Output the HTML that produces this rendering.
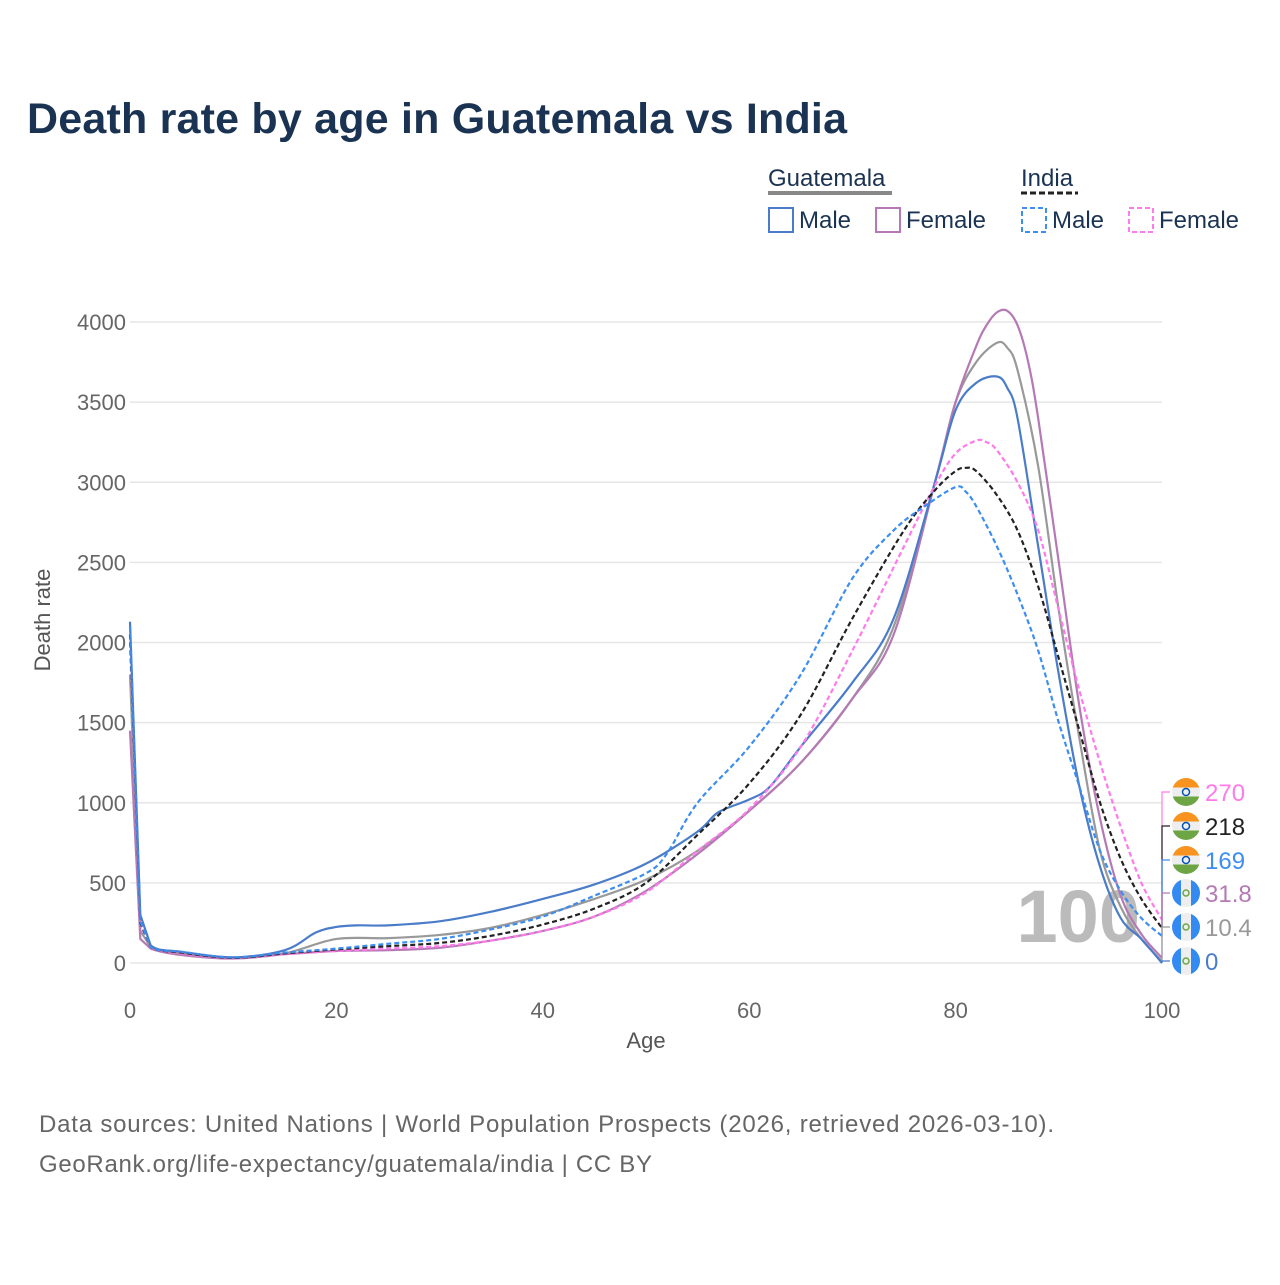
<!DOCTYPE html>
<html><head><meta charset="utf-8"><style>
body{margin:0;background:#fff;font-family:"Liberation Sans",sans-serif}
svg text{font-family:"Liberation Sans",sans-serif}
</style></head><body>
<svg id="chart" width="1280" height="1280" xmlns="http://www.w3.org/2000/svg">
<text x="27" y="133" font-size="43" font-weight="bold" fill="#1b3353" textLength="820">Death rate by age in Guatemala vs India</text>
<g font-size="24" fill="#1b3353">
<text x="768" y="186">Guatemala</text>
<line x1="768" y1="193" x2="892" y2="193" stroke="#888" stroke-width="4"/>
<text x="1021" y="186">India</text>
<line x1="1021" y1="193" x2="1078" y2="193" stroke="#222" stroke-width="3" stroke-dasharray="6,3"/>
<g><rect x="769" y="208" width="24" height="24" fill="none" stroke="#4a7cc9" stroke-width="2"/><text x="799" y="228">Male</text></g>
<g><rect x="876" y="208" width="24" height="24" fill="none" stroke="#b57ab5" stroke-width="2"/><text x="906" y="228">Female</text></g>
<g><rect x="1022" y="208" width="24" height="24" fill="none" stroke="#3d8ef0" stroke-width="2" stroke-dasharray="5,3"/><text x="1052" y="228">Male</text></g>
<g><rect x="1129" y="208" width="24" height="24" fill="none" stroke="#ff7aea" stroke-width="2" stroke-dasharray="5,3"/><text x="1159" y="228">Female</text></g>
</g>
<g id="grid"></g>
<text x="1140" y="942" font-size="74" font-weight="bold" fill="#bbb" text-anchor="end">100</text>
<g id="series"></g>
<g id="labels"></g>
<text x="50" y="620" font-size="22" fill="#555" text-anchor="middle" transform="rotate(-90 50 620)">Death rate</text>
<text x="646" y="1048" font-size="22" fill="#555" text-anchor="middle">Age</text>
<text x="39" y="1132" font-size="24" fill="#666" textLength="1015">Data sources: United Nations | World Population Prospects (2026, retrieved 2026-03-10).</text>
<text x="39" y="1172" font-size="24" fill="#666" textLength="613">GeoRank.org/life-expectancy/guatemala/india | CC BY</text>
</svg>
<script>
const xTicks=[0,20,40,60,80,100];
const yTicks=[0,500,1000,1500,2000,2500,3000,3500,4000];
const gtmMaleAges=[0,1,2,5,10,15,18,20,22,25,30,35,40,45,50,55,57,60,62,65,70,74,78,80,82,84,85,86,88,90,92,94,96,98,100];
const gtmMale=[2130,300,110,70,35,80,190,225,235,235,260,320,400,490,620,820,940,1020,1100,1350,1750,2150,3000,3450,3620,3660,3590,3400,2600,1800,1100,600,280,150,0];
const gtmAllAges=[0,1,2,5,10,15,20,25,30,35,40,45,50,55,60,65,70,74,78,80,82,84,85,86,88,90,92,94,96,98,100];
const gtmAll=[1800,200,100,60,30,60,150,155,175,220,300,400,520,700,950,1250,1650,2100,3000,3500,3750,3870,3840,3700,3100,2200,1400,700,350,150,10.4];
const gtmFemaleAges=[0,1,2,5,10,15,20,25,30,35,40,45,50,55,60,65,70,74,78,80,82,83,84,85,86,87,88,90,92,94,96,98,100];
const gtmFemale=[1450,150,90,50,28,55,75,80,95,140,200,290,450,680,950,1250,1650,2050,3000,3500,3850,3980,4060,4070,3980,3760,3400,2500,1600,900,420,180,31.8];
const indMaleAges=[0,1,2,5,10,15,20,25,30,35,40,45,50,52,55,60,65,70,74,77,80,81,82,84,86,88,90,92,94,96,98,100];
const indMale=[2100,260,100,70,35,65,90,120,150,210,290,420,560,680,1000,1350,1800,2400,2700,2850,2970,2940,2850,2600,2300,1950,1500,1100,700,450,280,169];
const indAllAges=[0,1,2,5,10,15,20,25,30,35,40,45,50,55,60,65,70,75,78,80,81,82,84,86,88,90,92,94,96,98,100];
const indAll=[2050,250,100,65,32,60,85,105,125,170,240,340,500,800,1120,1550,2150,2700,2950,3070,3090,3070,2920,2700,2350,1900,1450,1000,650,400,218];
const indFemaleAges=[0,1,2,5,10,15,20,25,30,35,40,45,50,55,60,65,70,75,78,80,82,83,84,86,88,90,92,94,96,98,100];
const indFemale=[2000,240,100,60,30,55,75,90,105,140,200,290,440,700,960,1350,1950,2600,2980,3180,3260,3250,3200,3000,2700,2200,1700,1250,850,500,270];

const X=a=>130+a*10.32;
const Y=v=>963-v*0.16025;
const NS="http://www.w3.org/2000/svg";
function mk(t,at,p){const e=document.createElementNS(NS,t);for(const k in at)e.setAttribute(k,at[k]);p.appendChild(e);return e;}
const grid=document.getElementById('grid');
yTicks.forEach(v=>{
  mk('line',{x1:130,x2:1162,y1:Y(v),y2:Y(v),stroke:'#e6e6e6','stroke-width':1.5},grid);
  const t=mk('text',{x:126,y:Y(v)+8,'font-size':22,fill:'#666','text-anchor':'end'},grid);
  
  
  t.textContent=v;
});
xTicks.forEach(a=>{
  const t=mk('text',{x:X(a),y:1018,'font-size':22,fill:'#666','text-anchor':'middle'},grid);
  
  
  t.textContent=a;
});
function path(ages,vals){
  const p=ages.map((a,i)=>[X(a),Y(vals[i])]);
  let d='M'+p[0][0]+','+p[0][1];
  for(let i=0;i<p.length-1;i++){
    const p0=p[Math.max(0,i-1)],p1=p[i],p2=p[i+1],p3=p[Math.min(p.length-1,i+2)];
    const t=i<2?0:1/6;
    d+=` C${p1[0]+(p2[0]-p0[0])*t},${p1[1]+(p2[1]-p0[1])*t} ${p2[0]-(p3[0]-p1[0])*t},${p2[1]-(p3[1]-p1[1])*t} ${p2[0]},${p2[1]}`;
  }
  return d;
}
const S=document.getElementById('series');
const defs=[
 ['series-guatemala-all',gtmAllAges,gtmAll,'#999',null],
 ['series-guatemala-female',gtmFemaleAges,gtmFemale,'#b57ab5',null],
 ['series-guatemala-male',gtmMaleAges,gtmMale,'#4a7cc9',null],
 ['series-india-female',indFemaleAges,indFemale,'#ff7aea','5,3'],
 ['series-india-all',indAllAges,indAll,'#222','5,3'],
 ['series-india-male',indMaleAges,indMale,'#3d8ef0','5,3']];
defs.forEach(s=>{
  const at={d:path(s[1],s[2]),fill:'none',stroke:s[3],'stroke-width':2.2};
  if(s[4])at['stroke-dasharray']=s[4];
  const e=mk('path',at,S);
  
  
});
const L=document.getElementById('labels');
const defsEl=mk('defs',{},L);
const lab=[[indFemale,'#ff7aea',792,'in'],[indAll,'#222',826,'in'],[indMale,'#3d8ef0',860,'in'],[gtmFemale,'#b57ab5',893,'gt'],[gtmAll,'#999',927,'gt'],[gtmMale,'#4a7cc9',961,'gt']];
lab.forEach((l,i)=>{
  const v=l[0][l[0].length-1];
  mk('path',{d:`M1162,${Y(v)} L1162,${l[2]} L1170,${l[2]}`,fill:'none',stroke:l[1],'stroke-width':1.2},L);
  const g=mk('g',{},L);
  
  
  const cx=1186,cy=l[2];
  const cp=mk('clipPath',{id:'fc'+i},defsEl);
  mk('circle',{cx,cy,r:14},cp);
  const f=mk('g',{'clip-path':`url(#fc${i})`},g);
  if(l[3]=='in'){
    mk('rect',{x:cx-14,y:cy-14,width:28,height:28,fill:'#eee'},f);
    mk('rect',{x:cx-14,y:cy-14,width:28,height:9.5,fill:'#f7931e'},f);
    mk('rect',{x:cx-14,y:cy+4.5,width:28,height:9.5,fill:'#6da544'},f);
    mk('circle',{cx,cy,r:3.5,fill:'none',stroke:'#0052b4','stroke-width':1.5},f);
  }else{
    mk('rect',{x:cx-14,y:cy-14,width:28,height:28,fill:'#eee'},f);
    mk('rect',{x:cx-14,y:cy-14,width:9,height:28,fill:'#338af3'},f);
    mk('rect',{x:cx+5,y:cy-14,width:9,height:28,fill:'#338af3'},f);
    mk('circle',{cx,cy,r:3,fill:'none',stroke:'#6da544','stroke-width':1.5},f);
  }
  const t=mk('text',{x:1205,y:cy+9,'font-size':24,fill:l[1]},g);
  t.textContent=v;
});
</script>
</body></html>
